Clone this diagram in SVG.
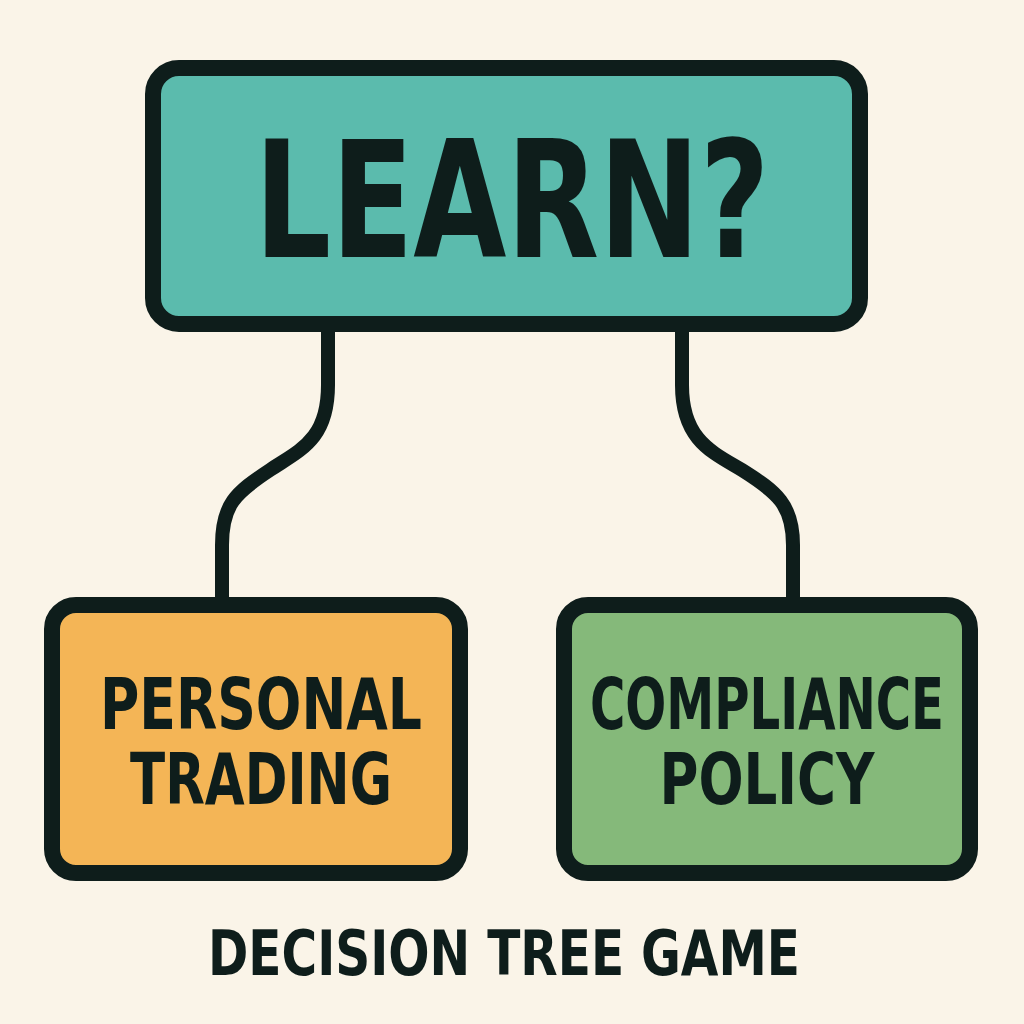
<svg xmlns="http://www.w3.org/2000/svg" width="1024" height="1024" viewBox="0 0 1024 1024">
<style>
.box{stroke:#0e1d1b;stroke-width:16;}
.t{font-family:"DejaVu Sans Condensed","DejaVu Sans","Liberation Sans",sans-serif;font-weight:bold;fill:#0e1d1b;text-anchor:middle;}
.c{fill:none;stroke:#0e1d1b;stroke-width:14;}
</style>
<rect width="1024" height="1024" fill="#faf4e8"/>
<g id="connectors">
<path class="c" d="M328 330 L328 385 C328 440 300 450 270 470 C235 493 222 505 222 545 L222 600"/>
<path class="c" d="M682 330 L682 385 C682 440 712 452 742 470 C777 492 793 505 793 545 L793 600"/>
</g>
<g id="learn">
<rect class="box" x="153" y="68" width="707" height="256" rx="26" fill="#5bbbad"/>
<text class="t" x="512" y="257" font-size="163" textLength="515" lengthAdjust="spacingAndGlyphs">LEARN?</text>
</g>
<g id="personal">
<rect class="box" x="52" y="605" width="408" height="268" rx="24" fill="#f4b556"/>
<text class="t" x="261" y="729" font-size="72" textLength="322" lengthAdjust="spacingAndGlyphs">PERSONAL</text>
<text class="t" x="261" y="804" font-size="72" textLength="262" lengthAdjust="spacingAndGlyphs">TRADING</text>
</g>
<g id="compliance">
<rect class="box" x="564" y="605" width="406" height="268" rx="24" fill="#85b97a"/>
<text class="t" x="767" y="729" font-size="72" textLength="354" lengthAdjust="spacingAndGlyphs">COMPLIANCE</text>
<text class="t" x="767" y="804" font-size="72" textLength="215" lengthAdjust="spacingAndGlyphs">POLICY</text>
</g>
<g id="title">
<text class="t" x="504" y="975" font-size="62" textLength="592" lengthAdjust="spacingAndGlyphs">DECISION TREE GAME</text>
</g>
</svg>
